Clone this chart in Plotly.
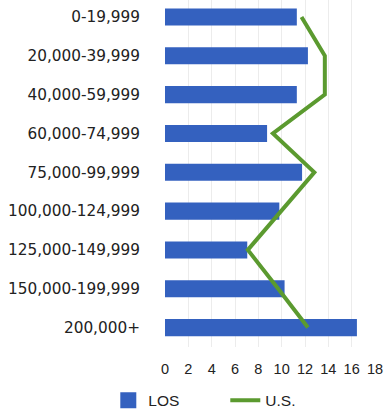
import plotly.graph_objects as go

# Household income brackets
categories = ["0-19,999", "20,000-39,999", "40,000-59,999", "60,000-74,999",
              "75,000-99,999", "100,000-124,999", "125,000-149,999",
              "150,000-199,999", "200,000+"]
los_values = [11.3, 12.25, 11.3, 8.75, 11.75, 9.8, 7.05, 10.25, 16.45]
us_values = [11.7, 13.7, 13.7, 9.25, 12.8, 10.0, 7.1, 9.7, 12.25]
x_ticks = [0, 2, 4, 6, 8, 10, 12, 14, 16, 18]

BLUE = "#3461bf"
GREEN = "#5b9a2f"
FONT = "Liberation Sans, Arial, sans-serif"

fig = go.Figure()

fig.add_trace(go.Bar(
    y=categories, x=los_values, orientation="h",
    marker=dict(color=BLUE, line=dict(width=0)),
    name="LOS", showlegend=False,
))
# legend swatch for the bars
fig.add_trace(go.Scatter(
    x=[None], y=[None], mode="markers", name="LOS",
    marker=dict(symbol="square", size=18, color=BLUE),
))
fig.add_trace(go.Scatter(
    y=categories, x=us_values, mode="lines",
    line=dict(color=GREEN, width=4),
    name="U.S.",
))

fig.update_layout(
    width=384, height=414,
    margin=dict(l=165, r=9, t=0, b=67, autoexpand=False),
    paper_bgcolor="white", plot_bgcolor="white",
    bargap=0.56,
    font=dict(family=FONT, size=14, color="#222222"),
    legend=dict(orientation="h", x=-0.27, xanchor="left",
                y=-0.155, yanchor="middle",
                font=dict(size=15.5, color="#222222"),
                entrywidth=72, entrywidthmode="pixels",
                itemsizing="trace", bgcolor="rgba(0,0,0,0)"),
)
fig.update_xaxes(
    range=[0, 18], tickvals=x_ticks, showgrid=True,
    gridcolor="#ececec", gridwidth=1, zeroline=False,
    showline=False, ticklabelstandoff=11,
    tickfont=dict(size=14.5, color="#222222"),
)
fig.update_yaxes(
    categoryorder="array", categoryarray=categories,
    range=[8.5, -0.437], showgrid=False, zeroline=False,
    showline=False, ticklabelstandoff=24,
    tickfont=dict(size=15.3, family="DejaVu Sans, sans-serif", color="#222222"),
)

fig.write_html("out.html")
